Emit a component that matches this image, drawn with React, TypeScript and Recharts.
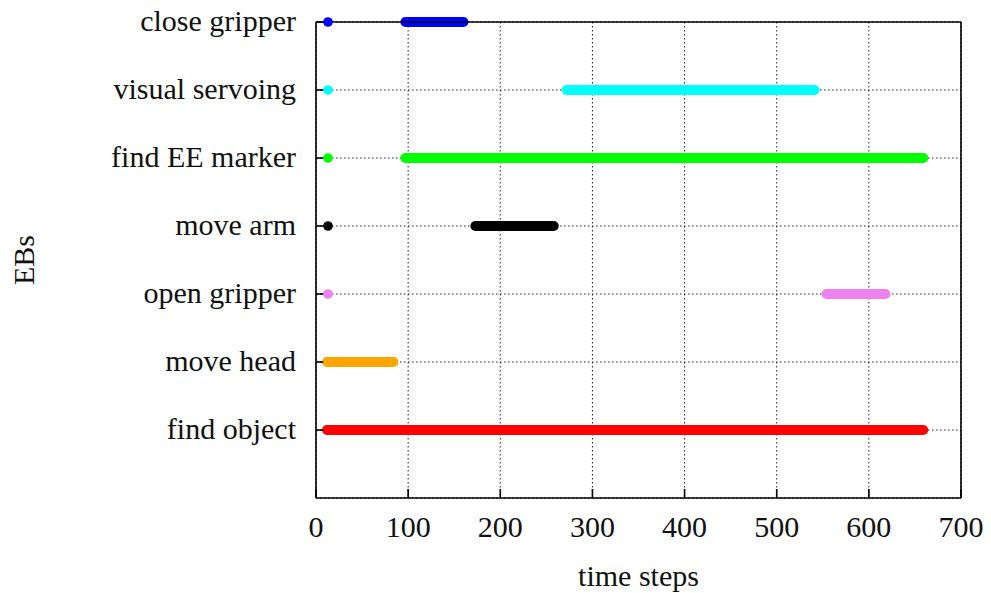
import {
  ComposedChart,
  Line,
  Scatter,
  XAxis,
  YAxis,
  CartesianGrid,
} from "recharts";

// EBs, bottom (1) to top (7)
const behaviours = [
  "find object",
  "move head",
  "open gripper",
  "move arm",
  "find EE marker",
  "visual servoing",
  "close gripper",
];
const startSteps = [12, 12, 554, 173, 97, 272, 97];
const endSteps = [659, 84, 618, 258, 659, 541, 160];
const triggerStep = [13, 13, 13, 13, 13, 13, 13];
const colors = ["#ff0000", "#ffa500", "#ee82ee", "#000000", "#00ff00", "#00ffff", "#0000ff"];

const xTicks = [0, 100, 200, 300, 400, 500, 600, 700];
const yTicks = [1, 2, 3, 4, 5, 6, 7];

const font = "'Liberation Serif', 'Times New Roman', serif";
const tickStyle = { fontFamily: font, fontSize: 30, fill: "#111" };
const axisStroke = { stroke: "#000", strokeWidth: 1.6 };

export default function App() {
  return (
    <div style={{ position: "absolute", left: 0, top: 0, background: "#fff" }}>
      <ComposedChart
        width={991}
        height={593}
        margin={{ top: 21, right: 29, bottom: 0, left: 0 }}
      >
        <CartesianGrid
          xAxisId="b"
          yAxisId="l"
          stroke="#222"
          strokeDasharray="1.5 2.5"
          strokeWidth={1}
        />
        {behaviours.map((name, i) => (
          <Scatter
            key={"dot-" + name}
            xAxisId="b"
            yAxisId="l"
            data={[{ x: triggerStep[i], y: i + 1 }]}
            fill={colors[i]}
            shape={(p: any) => <circle cx={p.cx} cy={p.cy} r={4.8} fill={colors[i]} />}
            isAnimationActive={false}
          />
        ))}
        {behaviours.map((name, i) => (
          <Line
            key={"run-" + name}
            xAxisId="b"
            yAxisId="l"
            data={[
              { x: startSteps[i], y: i + 1 },
              { x: endSteps[i], y: i + 1 },
            ]}
            dataKey="y"
            type="linear"
            stroke={colors[i]}
            strokeWidth={10}
            strokeLinecap="round"
            dot={false}
            activeDot={false}
            isAnimationActive={false}
          />
        ))}
        <XAxis
          xAxisId="b"
          type="number"
          dataKey="x"
          domain={[0, 700]}
          ticks={xTicks}
          height={95}
          tickSize={-9}
          tickMargin={27}
          axisLine={axisStroke}
          tickLine={axisStroke}
          tick={tickStyle}
          label={{
            content: ({ viewBox }: any) => (
              <text
                x={viewBox.x + viewBox.width / 2}
                y={586}
                textAnchor="middle"
                style={{ fontFamily: font, fontSize: 30 }}
                fill="#111"
              >
                time steps
              </text>
            ),
          }}
        />
        <XAxis
          xAxisId="t"
          orientation="top"
          type="number"
          dataKey="x"
          domain={[0, 700]}
          ticks={xTicks}
          height={1}
          tickSize={-9}
          tickFormatter={() => ""}
          axisLine={axisStroke}
          tickLine={axisStroke}
        />
        <YAxis
          yAxisId="l"
          type="number"
          dataKey="y"
          domain={[0, 7]}
          ticks={yTicks}
          width={316}
          tickSize={-9}
          tickMargin={29}
          tickFormatter={(v: number) => behaviours[v - 1]}
          axisLine={axisStroke}
          tickLine={axisStroke}
          tick={{ ...tickStyle, dy: -2 }}
          label={{
            content: ({ viewBox }: any) => {
              const cy = viewBox.y + viewBox.height / 2;
              return (
                <text
                  x={23}
                  y={cy}
                  transform={`rotate(-90 23 ${cy})`}
                  textAnchor="middle"
                  dominantBaseline="central"
                  style={{ fontFamily: font, fontSize: 30 }}
                  fill="#111"
                >
                  EBs
                </text>
              );
            },
          }}
        />
        <YAxis
          yAxisId="r"
          orientation="right"
          type="number"
          dataKey="y"
          domain={[0, 7]}
          ticks={yTicks}
          width={1}
          tickSize={-9}
          tickFormatter={() => ""}
          axisLine={axisStroke}
          tickLine={axisStroke}
        />
      </ComposedChart>
    </div>
  );
}
